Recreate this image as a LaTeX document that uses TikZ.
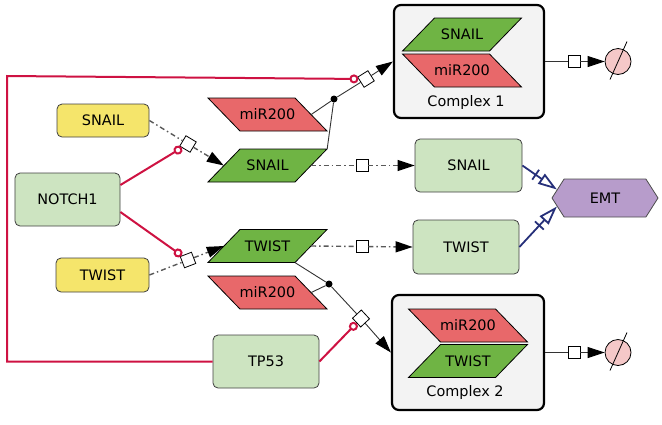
\documentclass[tikz,border=0pt]{standalone}
\usepackage{fontspec}
\setmainfont{DejaVu Sans}
\usetikzlibrary{shapes.geometric,shapes.symbols,arrows.meta,calc}
\definecolor{yel}{HTML}{F5E56B}
\definecolor{lgreen}{HTML}{CDE4C1}
\definecolor{dgreen}{HTML}{6FB444}
\definecolor{rred}{HTML}{E8686A}
\definecolor{cplx}{HTML}{F3F3F3}
\definecolor{catred}{HTML}{CE1242}
\definecolor{emtc}{HTML}{B79CCB}
\definecolor{nblue}{HTML}{26307A}
\definecolor{sinkc}{HTML}{F5C8C8}
% #1 name, #2 x, #3 y, #4 slant (+16 = "/", -16 = "\"), #5 fill, #6 text
\newcommand{\parnode}[6]{%
  \filldraw[fill=#5,draw=black,line width=0.8bp,shift={(#2,#3)}]
    (-43.5-#4,16.5) -- (43.5-#4,16.5) -- (43.5+#4,-16.5) -- (-43.5+#4,-16.5) -- cycle;
  \node[ptext] (#1) at (#2,#3) {#6};}
\begin{document}
\begin{tikzpicture}[x=1bp,y=-1bp,font=\fontsize{14.5}{17}\selectfont,
 box/.style={draw=black!75,line width=0.8bp,rounded corners=5bp,inner sep=0,align=center},
 ybox/.style={box,fill=yel,minimum width=92bp,minimum height=33bp},
 gbox/.style={box,fill=lgreen,minimum width=106bp,minimum height=53bp},
 ptext/.style={rectangle,minimum width=87bp,minimum height=33bp,inner sep=0},
 cbox/.style={draw=black,line width=2.2bp,fill=cplx,rounded corners=7bp,inner sep=0},
 proc/.style={draw=black,fill=white,line width=0.8bp,minimum size=12bp,inner sep=0},
 dot/.style={circle,fill=black,minimum size=7bp,inner sep=0},
 sink/.style={circle,draw=black,fill=sinkc,minimum size=26bp,inner sep=0,line width=0.8bp},
 emtbox/.style={signal,signal to=west and east,signal pointer angle=115,fill=emtc,draw=black!70,line width=0.8bp,minimum width=106bp,minimum height=38bp,inner sep=0},
 cons/.style={draw=black!80,line width=0.9bp},
 prod/.style={cons,-{Triangle[length=17bp,width=11bp,color=black]}},
 trans/.style={draw=black!65,line width=1.4bp,dash pattern=on 5bp off 3bp on 1.5bp off 3bp},
 transarr/.style={trans,-{Triangle[length=17bp,width=11bp,color=black]}},
 catal/.style={draw=catred,line width=2bp,-{Circle[fill=white,length=9bp,width=9bp]}},
 nec/.style={draw=nblue,line width=1.8bp,-{Bar[width=12bp,sep=6bp]Triangle[open,length=19bp,width=12bp]}}
]
\useasboundingbox (0,0) rectangle (662,424);
% complexes
\node[cbox,minimum width=150bp,minimum height=113bp] (c1) at (469,61.5) {};
\node[cbox,minimum width=152bp,minimum height=115bp] (c2) at (468,352.5) {};
\parnode{c1sn}{462}{34.5}{16}{dgreen}{SNAIL}
\parnode{c1mi}{462}{70.5}{-16}{rred}{miR200}
\node (c1lab) at (466,103) {Complex 1};
\parnode{c2mi}{468}{325.5}{-16}{rred}{miR200}
\parnode{c2tw}{468}{361}{16}{dgreen}{TWIST}
\node (c2lab) at (465,393) {Complex 2};
% boxes
\node[ybox] (ysnail) at (103,120.5) {SNAIL};
\node[gbox,minimum width=105bp] (notch) at (67.5,199.5) {NOTCH1};
\node[ybox,minimum width=93bp,minimum height=34bp] (ytwist) at (102.5,275) {TWIST};
\node[gbox] (tp53) at (266,361.5) {TP53};
\node[gbox,minimum width=107bp] (snL) at (468.5,165.5) {SNAIL};
\node[gbox,minimum height=54bp] (twL) at (466,247) {TWIST};
\parnode{miA}{267.5}{114.5}{-16}{rred}{miR200}
\parnode{snG}{267.5}{165.5}{16}{dgreen}{SNAIL}
\parnode{twG}{267.5}{246}{16}{dgreen}{TWIST}
\parnode{miB}{267.5}{292.5}{-16}{rred}{miR200}
\node[emtbox] (emt) at (605,198) {EMT};
% process nodes
\node[dot] (d1) at (334,99) {};
\node[proc,rotate=32] (p1) at (366,79) {};
\node[proc,rotate=-31] (p2) at (188,144) {};
\node[proc] (p3) at (362,165.5) {};
\node[proc,rotate=21] (p4) at (188,260) {};
\node[proc] (p5) at (362,246.5) {};
\node[dot] (d2) at (329,284) {};
\node[proc,rotate=-47] (p6) at (361,318.5) {};
\node[proc] (p7) at (574,61.5) {};
\node[sink] (s1) at (618,61.5) {};
\node[proc] (p8) at (574,352.5) {};
\node[sink] (s2) at (618,352.5) {};
\coordinate (r1) at (7,361.5);
\coordinate (r2) at (7,76);
% connectors
\draw[trans] (ysnail.east) -- (p2);
\draw[transarr] (p2) -- (snG.west);
\draw[catal] ([yshift=14.5bp]notch.east) -- (p2);
\draw[trans] (ytwist.east) -- (p4);
\draw[transarr] (p4) -- (twG.west);
\draw[catal] ([yshift=-12.5bp]notch.east) -- (p4);
\draw[trans] (snG.east) -- (p3);
\draw[transarr] (p3) -- (snL.west);
\draw[trans] (twG.east) -- (p5);
\draw[transarr] (p5) -- (twL.west);
\draw[cons] (miA.east) -- (d1);
\draw[cons] ([xshift=16bp]snG.north east) -- (d1);
\draw[cons] (d1) -- (p1);
\draw[prod] (p1) -- (c1.west);
\draw[cons] ([xshift=-16bp]twG.south east) -- (d2);
\draw[cons] (miB.east) -- (d2);
\draw[cons] (d2) -- (p6);
\draw[prod] (p6) -- (c2.west);
\draw[catal] (tp53.east) -- (p6);
\draw[catal] (tp53.west) -- (r1) -- (r2) -- (p1);
\draw[cons] (c1.east) -- (p7);
\draw[prod] (p7) -- (s1);
\draw[cons] (c2.east) -- (p8);
\draw[prod] (p8) -- (s2);
\draw[line width=0.8bp] ([shift={(-8,18)}]s1.center) -- ([shift={(9,-20)}]s1.center);
\draw[line width=0.8bp] ([shift={(-8,18)}]s2.center) -- ([shift={(9,-20)}]s2.center);
\draw[nec] (snL.east) -- (emt.170);
\draw[nec] (twL.east) -- (emt.190);
\end{tikzpicture}
\end{document}
